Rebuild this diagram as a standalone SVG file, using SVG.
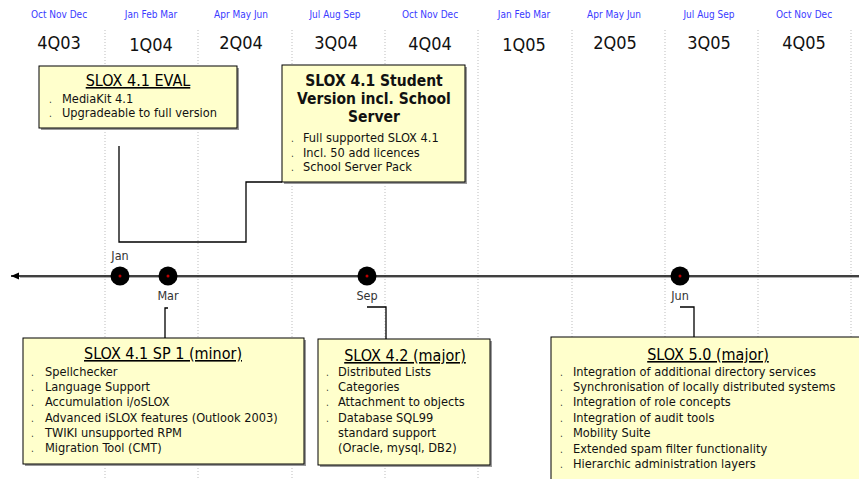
<svg xmlns="http://www.w3.org/2000/svg" width="859" height="479" viewBox="0 0 859 479">
<style>
.grid{stroke:#bdbdbd;stroke-width:1;stroke-dasharray:1 2;fill:none}
.mon{font-family:"DejaVu Sans Condensed","DejaVu Sans",sans-serif;font-size:10px;fill:#3a3aff;text-anchor:middle}
.q{font-family:"DejaVu Sans Condensed","DejaVu Sans",sans-serif;font-size:18px;fill:#111;text-anchor:middle}
.box{fill:#ffffcc;stroke:#000;stroke-width:1}
.shadow{fill:#9a9a9a}
.title{font-family:"DejaVu Sans Condensed","DejaVu Sans",sans-serif;font-size:16px;fill:#000;text-anchor:middle;text-decoration:underline}
.btitle{font-family:"DejaVu Sans Condensed","DejaVu Sans",sans-serif;font-size:15.5px;font-weight:bold;fill:#111;text-anchor:middle}
.item{font-family:"DejaVu Sans Condensed","DejaVu Sans",sans-serif;font-size:12.7px;fill:#111}
.dot{font-family:"DejaVu Sans Condensed","DejaVu Sans",sans-serif;font-size:10px;fill:#333}
.ms{font-family:"DejaVu Sans Condensed","DejaVu Sans",sans-serif;font-size:12.5px;fill:#333;text-anchor:middle}
.conn{stroke:#000;stroke-width:1.3;fill:none}
</style>
<defs>
<marker id="arrow" markerWidth="10" markerHeight="8" refX="8" refY="4" orient="auto" markerUnits="userSpaceOnUse">
<path d="M8,4 L0,0.5 L0,7.5 Z" fill="#000"/>
</marker>
</defs>
<rect width="859" height="479" fill="#fff"/>
<g id="grid">
<line class="grid" x1="105" y1="30" x2="105" y2="479"/>
<line class="grid" x1="198" y1="30" x2="198" y2="479"/>
<line class="grid" x1="292" y1="30" x2="292" y2="479"/>
<line class="grid" x1="385" y1="30" x2="385" y2="479"/>
<line class="grid" x1="478" y1="30" x2="478" y2="479"/>
<line class="grid" x1="572" y1="30" x2="572" y2="479"/>
<line class="grid" x1="665" y1="30" x2="665" y2="479"/>
<line class="grid" x1="758" y1="30" x2="758" y2="479"/>
<line class="grid" x1="851" y1="30" x2="851" y2="479"/>
</g>
<g id="header">
<text class="mon" x="59" y="18">Oct Nov Dec</text>
<text class="mon" x="151" y="18">Jan Feb Mar</text>
<text class="mon" x="241" y="18">Apr May Jun</text>
<text class="mon" x="335" y="18">Jul  Aug Sep</text>
<text class="mon" x="430" y="18">Oct Nov Dec</text>
<text class="mon" x="524" y="18">Jan Feb Mar</text>
<text class="mon" x="614" y="18">Apr May Jun</text>
<text class="mon" x="709" y="18">Jul Aug Sep</text>
<text class="mon" x="804" y="18">Oct Nov Dec</text>
<text class="q" x="59" y="49">4Q03</text>
<text class="q" x="151" y="51">1Q04</text>
<text class="q" x="241" y="49">2Q04</text>
<text class="q" x="336" y="49">3Q04</text>
<text class="q" x="430" y="50">4Q04</text>
<text class="q" x="524" y="51">1Q05</text>
<text class="q" x="615" y="49">2Q05</text>
<text class="q" x="709" y="49">3Q05</text>
<text class="q" x="804" y="49">4Q05</text>
</g>
<g id="connectors">
<line x1="859" y1="277.5" x2="20" y2="277.5" stroke="#b0b0b0" stroke-width="1"/>
<line x1="859" y1="276" x2="11" y2="276" stroke="#000" stroke-width="1.5" marker-end="url(#arrow)"/>
<polyline class="conn" points="119,146 119,242 246,242 246,182 282,182"/>
<polyline class="conn" points="168,308 165,308 165,338"/>
<polyline class="conn" points="367,307 386,307 386,339"/>
<polyline class="conn" points="680,307 694,307 694,337"/>
</g>
<g id="milestone-jan">
<circle cx="120" cy="276" r="9.5" fill="#000"/>
<circle cx="120" cy="276" r="1.5" fill="#c00000"/>
<text class="ms" x="120" y="260">Jan</text>
</g>
<g id="milestone-mar">
<circle cx="168" cy="276" r="9.5" fill="#000"/>
<circle cx="168" cy="276" r="1.5" fill="#c00000"/>
<text class="ms" x="168" y="300">Mar</text>
</g>
<g id="milestone-sep">
<circle cx="367" cy="276" r="9.5" fill="#000"/>
<circle cx="367" cy="276" r="1.5" fill="#c00000"/>
<text class="ms" x="367" y="300">Sep</text>
</g>
<g id="milestone-jun">
<circle cx="680" cy="276" r="9.5" fill="#000"/>
<circle cx="680" cy="276" r="1.5" fill="#c00000"/>
<text class="ms" x="680" y="300">Jun</text>
</g>
<g id="box-eval">
<rect class="shadow" x="41" y="68" width="198" height="62"/>
<rect class="box" x="39" y="66" width="198" height="62"/>
<text class="title" x="138" y="86">SLOX 4.1 EVAL</text>
<text class="dot" x="49" y="103">.</text><text class="item" x="62" y="103">MediaKit 4.1</text>
<text class="dot" x="49" y="117">.</text><text class="item" x="62" y="117">Upgradeable to full version</text>
</g>
<g id="box-student">
<rect class="shadow" x="284" y="67" width="183" height="117"/>
<rect class="box" x="282" y="65" width="183" height="117"/>
<text class="btitle" x="374" y="86">SLOX 4.1 Student</text>
<text class="btitle" x="374" y="104">Version incl. School</text>
<text class="btitle" x="374" y="122">Server</text>
<text class="dot" x="291" y="142">.</text><text class="item" x="303" y="142">Full supported SLOX 4.1</text>
<text class="dot" x="291" y="156.5">.</text><text class="item" x="303" y="156.5">Incl. 50 add licences</text>
<text class="dot" x="291" y="171">.</text><text class="item" x="303" y="171">School Server Pack</text>
</g>
<g id="box-sp1">
<rect class="shadow" x="25" y="340" width="281" height="126"/>
<rect class="box" x="23" y="338" width="281" height="126"/>
<text class="title" x="163" y="359">SLOX 4.1 SP 1 (minor)</text>
<text class="dot" x="31" y="376">.</text><text class="item" x="45" y="376">Spellchecker</text>
<text class="dot" x="31" y="391">.</text><text class="item" x="45" y="391">Language Support</text>
<text class="dot" x="31" y="406">.</text><text class="item" x="45" y="406">Accumulation i/oSLOX</text>
<text class="dot" x="31" y="421.5">.</text><text class="item" x="45" y="421.5">Advanced iSLOX features (Outlook 2003)</text>
<text class="dot" x="31" y="437">.</text><text class="item" x="45" y="437">TWIKI unsupported RPM</text>
<text class="dot" x="31" y="452">.</text><text class="item" x="45" y="452">Migration Tool (CMT)</text>
</g>
<g id="box-42">
<rect class="shadow" x="320" y="341" width="172" height="126"/>
<rect class="box" x="318" y="339" width="172" height="126"/>
<text class="title" x="405" y="361">SLOX 4.2 (major)</text>
<text class="dot" x="326" y="376">.</text><text class="item" x="338" y="376">Distributed Lists</text>
<text class="dot" x="326" y="391">.</text><text class="item" x="338" y="391">Categories</text>
<text class="dot" x="326" y="406">.</text><text class="item" x="338" y="406">Attachment to objects</text>
<text class="dot" x="326" y="421.5">.</text><text class="item" x="338" y="421.5">Database SQL99</text>
<text class="item" x="338" y="437">standard support</text>
<text class="item" x="338" y="452">(Oracle, mysql, DB2)</text>
</g>
<g id="box-50">
<rect class="shadow" x="553" y="339" width="320" height="160"/>
<rect class="box" x="551" y="337" width="320" height="160"/>
<text class="title" x="708" y="360">SLOX 5.0 (major)</text>
<text class="dot" x="560" y="375.5">.</text><text class="item" x="573" y="375.5">Integration of additional directory services</text>
<text class="dot" x="560" y="391">.</text><text class="item" x="573" y="391">Synchronisation of locally distributed systems</text>
<text class="dot" x="560" y="406">.</text><text class="item" x="573" y="406">Integration of role concepts</text>
<text class="dot" x="560" y="421.5">.</text><text class="item" x="573" y="421.5">Integration of audit tools</text>
<text class="dot" x="560" y="437">.</text><text class="item" x="573" y="437">Mobility Suite</text>
<text class="dot" x="560" y="452.5">.</text><text class="item" x="573" y="452.5">Extended spam filter functionality</text>
<text class="dot" x="560" y="468">.</text><text class="item" x="573" y="468">Hierarchic administration layers</text>
</g>
</svg>
